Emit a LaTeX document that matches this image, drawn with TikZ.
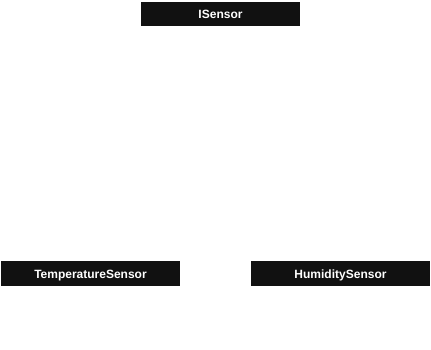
\documentclass[tikz,border=0pt]{standalone}
\usepackage{fontspec}
\setmainfont{Liberation Sans}
\usepackage{xcolor}
\usepackage{tikz}
\usetikzlibrary{positioning}
\definecolor{boxfill}{HTML}{111111}
\tikzset{
  classfont/.style={font=\fontsize{12}{14}\selectfont\bfseries},
  classbox/.style={rectangle, draw=none, fill=boxfill, text=white, align=center, inner sep=0pt, text height=10pt, text depth=0pt, minimum width=179pt, minimum height=25pt},
}

\begin{document}
\begin{tikzpicture}[x=1pt, y=1pt, classfont]
  \useasboundingbox (0,0) rectangle (431,350);
  \node[classbox, minimum width=159pt, minimum height=24pt] (iface) at (220.5,336) {ISensor};
  \node[classbox] (temp) at (90.5,76.5) {TemperatureSensor};
  \node[classbox] (humid) at (340.5,76.5) {HumiditySensor};
\end{tikzpicture}
\end{document}
